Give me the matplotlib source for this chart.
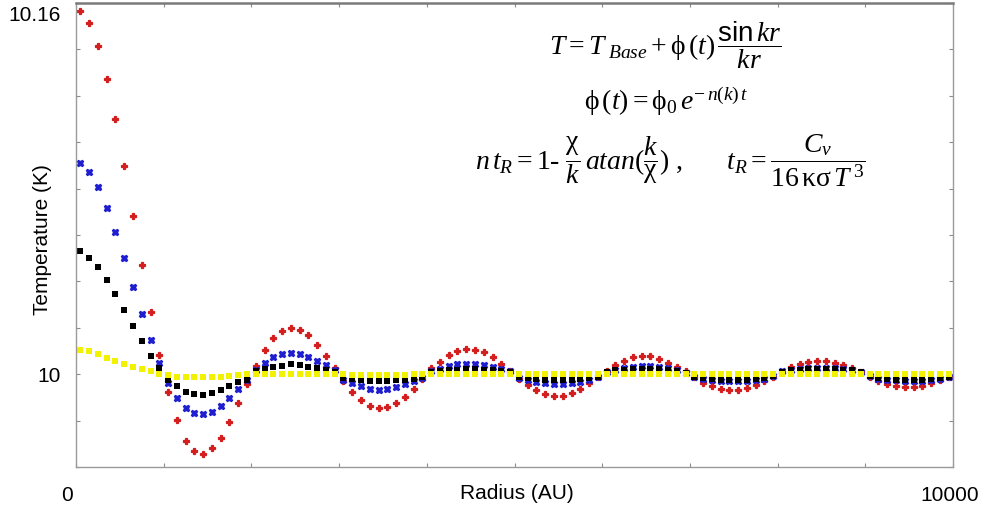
import numpy as np
import matplotlib
matplotlib.use("Agg")
from matplotlib import pyplot as plt
from matplotlib.transforms import ScaledTranslation

plt.rcParams['font.family'] = ['Liberation Sans', 'DejaVu Sans']
plt.rcParams['mathtext.fontset'] = 'custom'
plt.rcParams['mathtext.rm'] = 'Liberation Serif'
plt.rcParams['mathtext.it'] = 'Liberation Serif:italic'
plt.rcParams['mathtext.sf'] = 'Liberation Sans'
plt.rcParams['mathtext.bf'] = 'Liberation Serif:bold'

T_BASE = 10.0

# radius grid (AU), one sample every 100 AU
radius = np.arange(50, 10000, 100)

# temperature offsets from T_BASE (K) at four successive times
dT_red = [
    0.1565, 0.1513, 0.1415, 0.1271, 0.1098, 0.0896, 0.0682, 0.0470, 0.0266, 0.0081,
    -0.0077, -0.0198, -0.0287, -0.0333, -0.0343, -0.0320, -0.0273, -0.0206, -0.0126, -0.0043,
    0.0036, 0.0103, 0.0155, 0.0188, 0.0197, 0.0190, 0.0167, 0.0128, 0.0078, 0.0027,
    -0.0029, -0.0076, -0.0112, -0.0137, -0.0145, -0.0142, -0.0126, -0.0100, -0.0062, -0.0022,
    0.0025, 0.0053, 0.0082, 0.0100, 0.0109, 0.0106, 0.0094, 0.0075, 0.0046, 0.0014,
    -0.0019, -0.0047, -0.0070, -0.0087, -0.0094, -0.0092, -0.0079, -0.0063, -0.0040, -0.0014,
    0.0014, 0.0040, 0.0057, 0.0072, 0.0078, 0.0078, 0.0065, 0.0050, 0.0031, 0.0013,
    -0.0012, -0.0036, -0.0052, -0.0065, -0.0070, -0.0069, -0.0059, -0.0046, -0.0029, -0.0012,
    0.0010, 0.0029, 0.0042, 0.0052, 0.0056, 0.0056, 0.0049, 0.0039, 0.0025, 0.0010,
    -0.0012, -0.0029, -0.0043, -0.0050, -0.0055, -0.0055, -0.0050, -0.0037, -0.0026, -0.0012,
]
dT_blue = [
    0.0911, 0.0871, 0.0805, 0.0717, 0.0615, 0.0499, 0.0378, 0.0259, 0.0147, 0.0049,
    -0.0037, -0.0102, -0.0147, -0.0169, -0.0172, -0.0161, -0.0138, -0.0103, -0.0063, -0.0026,
    0.0016, 0.0049, 0.0072, 0.0087, 0.0092, 0.0087, 0.0075, 0.0059, 0.0039, 0.0017,
    -0.0023, -0.0037, -0.0050, -0.0062, -0.0066, -0.0063, -0.0055, -0.0042, -0.0030, -0.0016,
    0.0014, 0.0022, 0.0036, 0.0044, 0.0046, 0.0044, 0.0039, 0.0031, 0.0023, 0.0013,
    -0.0016, -0.0026, -0.0033, -0.0040, -0.0043, -0.0042, -0.0037, -0.0032, -0.0023, -0.0013,
    0.0010, 0.0020, 0.0027, 0.0031, 0.0034, 0.0034, 0.0030, 0.0025, 0.0017, 0.0006,
    -0.0014, -0.0022, -0.0026, -0.0029, -0.0030, -0.0030, -0.0029, -0.0024, -0.0020, -0.0009,
    0.0012, 0.0019, 0.0023, 0.0026, 0.0027, 0.0027, 0.0026, 0.0023, 0.0019, 0.0010,
    -0.0009, -0.0019, -0.0023, -0.0027, -0.0030, -0.0030, -0.0029, -0.0026, -0.0020, -0.0012,
]
dT_black = [
    0.0533, 0.0503, 0.0460, 0.0406, 0.0345, 0.0277, 0.0208, 0.0142, 0.0079, 0.0027,
    -0.0026, -0.0053, -0.0075, -0.0086, -0.0088, -0.0079, -0.0070, -0.0053, -0.0034, -0.0026,
    0.0013, 0.0023, 0.0032, 0.0037, 0.0042, 0.0039, 0.0033, 0.0025, 0.0020, 0.0010,
    -0.0015, -0.0022, -0.0026, -0.0029, -0.0029, -0.0029, -0.0027, -0.0024, -0.0020, -0.0012,
    0.0010, 0.0014, 0.0018, 0.0020, 0.0021, 0.0021, 0.0020, 0.0017, 0.0014, 0.0008,
    -0.0012, -0.0018, -0.0022, -0.0025, -0.0026, -0.0026, -0.0025, -0.0022, -0.0018, -0.0010,
    0.0010, 0.0016, 0.0020, 0.0022, 0.0023, 0.0023, 0.0022, 0.0020, 0.0015, 0.0006,
    -0.0010, -0.0017, -0.0021, -0.0024, -0.0025, -0.0025, -0.0024, -0.0021, -0.0017, -0.0008,
    0.0010, 0.0016, 0.0020, 0.0022, 0.0023, 0.0023, 0.0022, 0.0020, 0.0016, 0.0008,
    -0.0008, -0.0016, -0.0020, -0.0023, -0.0025, -0.0025, -0.0024, -0.0022, -0.0018, -0.0010,
]
dT_yellow = [
    0.0106, 0.0098, 0.0085, 0.0070, 0.0059, 0.0046, 0.0031, 0.0022, 0.0012, 0.0003,
    -0.0003, -0.0012, -0.0013, -0.0014, -0.0014, -0.0013, -0.0012, -0.0007, -0.0004, -0.0001,
    0.0001, 0.0002, 0.0002, 0.0002, 0.0002, 0.0002, 0.0002, 0.0002, 0.0002, 0.0001,
    -0.0001, -0.0002, -0.0002, -0.0002, -0.0002, -0.0002, -0.0002, -0.0002, -0.0001, -0.0001,
    0.0000, 0.0001, 0.0001, 0.0001, 0.0001, 0.0001, 0.0001, 0.0001, 0.0001, 0.0000,
    -0.0001, -0.0001, -0.0001, -0.0001, -0.0001, -0.0001, -0.0001, -0.0001, -0.0001, -0.0001,
    0.0000, 0.0000, 0.0001, 0.0001, 0.0001, 0.0001, 0.0001, 0.0000, 0.0000, 0.0000,
    -0.0001, -0.0001, -0.0001, -0.0001, -0.0001, -0.0001, -0.0001, -0.0001, -0.0001, 0.0000,
    0.0000, 0.0000, 0.0001, 0.0001, 0.0001, 0.0001, 0.0001, 0.0000, 0.0000, 0.0000,
    -0.0001, -0.0001, -0.0001, -0.0001, -0.0001, -0.0001, -0.0001, -0.0001, -0.0001, 0.0000,
]

y_ticks = np.arange(9.96, 10.161, 0.02)
y_labels = {10.0: '10', 10.16: '10.16'}
x_ticks = np.arange(0, 10001, 1000)
x_labels = {0: '0', 10000: '10000'}


def main():
    fig = plt.figure(figsize=(9.85, 5.12), dpi=100)
    ax = fig.add_axes([76 / 985, 1 - 467 / 512, 877 / 985, 464 / 512])

    ax.plot(radius, T_BASE + np.array(dT_red), 'P', color='#d41e1e', ms=4.6, mew=0.9)
    ax.plot(radius, T_BASE + np.array(dT_blue), 'X', color='#1e1ed0', ms=4.6, mew=0.9)
    ax.plot(radius, T_BASE + np.array(dT_black), 's', color='black', ms=4.0, mew=0)
    ax.plot(radius, T_BASE + np.array(dT_yellow), 's', color='#f2f200', ms=4.6, mew=0)

    ax.set_xlim(0, 10000)
    ax.set_ylim(9.96, 10.16)

    ax.set_yticks(y_ticks)
    ax.set_yticklabels([y_labels.get(round(v, 2), '') for v in y_ticks])
    ax.set_xticks(x_ticks)
    ax.set_xticklabels([x_labels.get(int(v), '') for v in x_ticks])
    ax.tick_params(direction='in', length=3, width=0.8, color='#8c8c8c',
                   top=True, right=True, labelsize=15)
    ax.tick_params(axis='y', pad=11)
    ax.tick_params(axis='x', pad=14)

    # keep the end labels inside the figure
    ylabs = ax.get_yticklabels()
    ylabs[-1].set_transform(ylabs[-1].get_transform()
                            + ScaledTranslation(0, -0.10, fig.dpi_scale_trans))
    xlabs = ax.get_xticklabels()
    xlabs[0].set_transform(xlabs[0].get_transform()
                           + ScaledTranslation(-0.09, 0, fig.dpi_scale_trans))
    xlabs[-1].set_transform(xlabs[-1].get_transform()
                            + ScaledTranslation(-0.03, 0, fig.dpi_scale_trans))

    for side, sp in ax.spines.items():
        sp.set_color('#9a9a9a')
        sp.set_linewidth(1.0)
    ax.spines['top'].set_color('#7a7a7a')
    ax.spines['top'].set_linewidth(1.8)

    ax.set_xlabel('Radius (AU)', fontsize=15)
    ax.xaxis.set_label_coords(0.503, -0.036)
    ax.set_ylabel('Temperature (K)', fontsize=15)
    ax.yaxis.set_label_coords(-0.027, 0.49)

    eq_kw = dict(transform=fig.transFigure, ha='center', va='center', fontsize=20)
    fig.text(665 / 985, 1 - 45 / 512,
             r'$T = T_{\ Base} + \mathrm{\phi}\,(t)\,'
             r'\dfrac{\mathsf{sin}\,kr}{kr}$', **eq_kw)
    fig.text(666 / 985, 1 - 101 / 512,
             r'$\mathrm{\phi}\,(t) = \mathrm{\phi}_0\, e^{-\,n(k)\,t}$', **eq_kw)
    fig.text(670 / 985, 1 - 161 / 512,
             r'$n\,t_R = 1\text{-}\ \dfrac{\mathrm{\chi}}{k}\,atan(\dfrac{k}{\mathrm{\chi}})\ ,\qquad'
             r't_R = \dfrac{C_v}{16\,\mathrm{\kappa\sigma}\, T^{\,3}}$', **eq_kw)

    fig.savefig('out.png', dpi=100)


if __name__ == '__main__':
    main()
